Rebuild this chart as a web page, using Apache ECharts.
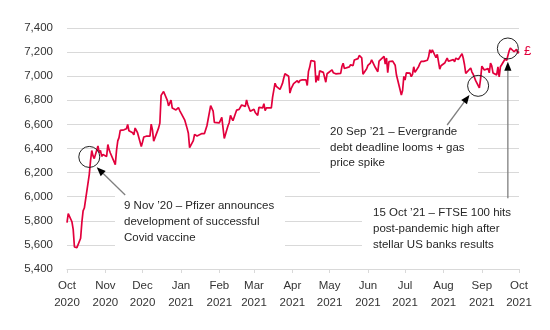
<!DOCTYPE html>
<html><head><meta charset="utf-8">
<script src="https://cdn.jsdelivr.net/npm/echarts@6/dist/echarts.min.js"></script>
<style>html,body{margin:0;padding:0;background:#fff}#c{width:550px;height:330px}</style>
</head><body><div id="c"></div>
<script>
// FTSE 100 daily close (UK holidays carry the previous close)
const dates = [
'2020-10-22','2020-10-23','2020-10-26','2020-10-27','2020-10-28','2020-10-29','2020-10-30',
'2020-11-02','2020-11-03','2020-11-04','2020-11-05','2020-11-06','2020-11-09','2020-11-10','2020-11-11','2020-11-12','2020-11-13','2020-11-16','2020-11-17','2020-11-18','2020-11-19','2020-11-20','2020-11-23','2020-11-24','2020-11-25','2020-11-26','2020-11-27','2020-11-30',
'2020-12-01','2020-12-02','2020-12-03','2020-12-04','2020-12-07','2020-12-08','2020-12-09','2020-12-10','2020-12-11','2020-12-14','2020-12-15','2020-12-16','2020-12-17','2020-12-18','2020-12-21','2020-12-22','2020-12-23','2020-12-24','2020-12-25','2020-12-28','2020-12-29','2020-12-30','2020-12-31',
'2021-01-01','2021-01-04','2021-01-05','2021-01-06','2021-01-07','2021-01-08','2021-01-11','2021-01-12','2021-01-13','2021-01-14','2021-01-15','2021-01-18','2021-01-19','2021-01-20','2021-01-21','2021-01-22','2021-01-25','2021-01-26','2021-01-27','2021-01-28','2021-01-29',
'2021-02-01','2021-02-02','2021-02-03','2021-02-04','2021-02-05','2021-02-08','2021-02-09','2021-02-10','2021-02-11','2021-02-12','2021-02-15','2021-02-16','2021-02-17','2021-02-18','2021-02-19','2021-02-22','2021-02-23','2021-02-24','2021-02-25','2021-02-26',
'2021-03-01','2021-03-02','2021-03-03','2021-03-04','2021-03-05','2021-03-08','2021-03-09','2021-03-10','2021-03-11','2021-03-12','2021-03-15','2021-03-16','2021-03-17','2021-03-18','2021-03-19','2021-03-22','2021-03-23','2021-03-24','2021-03-25','2021-03-26','2021-03-29','2021-03-30','2021-03-31',
'2021-04-01','2021-04-02','2021-04-05','2021-04-06','2021-04-07','2021-04-08','2021-04-09','2021-04-12','2021-04-13','2021-04-14','2021-04-15','2021-04-16','2021-04-19','2021-04-20','2021-04-21','2021-04-22','2021-04-23','2021-04-26','2021-04-27','2021-04-28','2021-04-29','2021-04-30',
'2021-05-03','2021-05-04','2021-05-05','2021-05-06','2021-05-07','2021-05-10','2021-05-11','2021-05-12','2021-05-13','2021-05-14','2021-05-17','2021-05-18','2021-05-19','2021-05-20','2021-05-21','2021-05-24','2021-05-25','2021-05-26','2021-05-27','2021-05-28','2021-05-31',
'2021-06-01','2021-06-02','2021-06-03','2021-06-04','2021-06-07','2021-06-08','2021-06-09','2021-06-10','2021-06-11','2021-06-14','2021-06-15','2021-06-16','2021-06-17','2021-06-18','2021-06-21','2021-06-22','2021-06-23','2021-06-24','2021-06-25','2021-06-28','2021-06-29','2021-06-30',
'2021-07-01','2021-07-02','2021-07-05','2021-07-06','2021-07-07','2021-07-08','2021-07-09','2021-07-12','2021-07-13','2021-07-14','2021-07-15','2021-07-16','2021-07-19','2021-07-20','2021-07-21','2021-07-22','2021-07-23','2021-07-26','2021-07-27','2021-07-28','2021-07-29','2021-07-30',
'2021-08-02','2021-08-03','2021-08-04','2021-08-05','2021-08-06','2021-08-09','2021-08-10','2021-08-11','2021-08-12','2021-08-13','2021-08-16','2021-08-17','2021-08-18','2021-08-19','2021-08-20','2021-08-23','2021-08-24','2021-08-25','2021-08-26','2021-08-27','2021-08-30','2021-08-31',
'2021-09-01','2021-09-02','2021-09-03','2021-09-06','2021-09-07','2021-09-08','2021-09-09','2021-09-10','2021-09-13','2021-09-14','2021-09-15','2021-09-16','2021-09-17','2021-09-20','2021-09-21','2021-09-22','2021-09-23','2021-09-24','2021-09-27','2021-09-28','2021-09-29','2021-09-30',
'2021-10-01','2021-10-04','2021-10-05','2021-10-06','2021-10-07','2021-10-08','2021-10-11','2021-10-12','2021-10-13','2021-10-14','2021-10-15','2021-10-18','2021-10-19','2021-10-20','2021-10-21','2021-10-22'
];
const closes = [
5785,5860,5792,5729,5583,5582,5577,
5655,5787,5883,5906,5910,6186,6297,6383,6339,6316,6421,6365,6385,6334,6351,6334,6433,6391,6363,6368,6266,
6384,6463,6490,6550,6555,6559,6564,6599,6547,6531,6513,6570,6550,6529,6416,6453,6495,6502,6502,6502,6602,6555,6461,
6461,6571,6612,6841,6857,6873,6799,6754,6745,6802,6736,6720,6712,6740,6715,6695,6638,6654,6567,6526,6407,
6466,6517,6507,6504,6489,6524,6532,6524,6528,6589,6756,6749,6711,6617,6624,6612,6626,6659,6652,6483,
6589,6614,6675,6651,6631,6719,6730,6725,6737,6761,6750,6803,6763,6779,6709,6726,6699,6713,6674,6741,6737,6772,6714,
6737,6737,6737,6824,6885,6942,6916,6890,6889,6940,6983,7020,7000,6860,6896,6895,6938,6963,6945,6963,6961,6970,
6970,6923,7040,7076,7130,7123,6948,7005,6963,7044,7032,7035,6950,7020,7018,7052,7029,7026,7020,7023,7023,
7080,7108,7064,7069,7077,7095,7081,7088,7134,7146,7172,7184,7153,7017,7062,7090,7074,7109,7136,7072,7087,7037,
7125,7123,7164,7101,7151,7030,7122,7125,7124,7091,7012,7008,6844,6881,6998,6968,7028,7025,6996,7016,7078,7032,
7081,7106,7123,7120,7123,7132,7161,7220,7193,7219,7153,7181,7169,7058,7087,7109,7125,7150,7124,7138,7138,7120,
7150,7164,7138,7187,7149,7095,7024,7029,7068,7034,7016,7027,6963,6903,6980,7083,7078,7051,7063,7028,7108,7086,
7027,7011,7077,6995,7078,7095,7147,7130,7141,7208,7234,7203,7217,7223,7190,7205
];
const tickDates = ['2020-10-22','2020-11-22','2020-12-22','2021-01-22','2021-02-22','2021-03-22','2021-04-22','2021-05-22','2021-06-22','2021-07-22','2021-08-22','2021-09-22','2021-10-22'];
const tickLabels = ['Oct\n2020','Nov\n2020','Dec\n2020','Jan\n2021','Feb\n2021','Mar\n2021','Apr\n2021','May\n2021','Jun\n2021','Jul\n2021','Aug\n2021','Sep\n2021','Oct\n2021'];
const yTickValues = [5400,5600,5800,6000,6200,6400,6600,6800,7000,7200,7400];
const yTickLabels = ['5,400','5,600','5,800','6,000','6,200','6,400','6,600','6,800','7,000','7,200','7,400'];
const circleAnchors = [['2020-11-09',6330],['2021-09-19',6920],['2021-10-13',7230]];
const arrowTails = [['2020-12-08',6014],['2021-08-25',6595],['2021-10-13',5987]];
const arrowTips  = [['2020-11-15',6244],['2021-09-12',6844],['2021-10-13',7120]];
const noteTexts = [
  '9 Nov \u201920 \u2013 Pfizer announces\ndevelopment of successful\nCovid vaccine',
  '20 Sep \u201921 \u2013 Evergrande\ndebt deadline looms + gas\nprice spike',
  '15 Oct \u201921 \u2013 FTSE 100 hits\npost-pandemic high after\nstellar US banks results'
];

// dates -> day number from the first axis date (UTC, so no DST shifts)
function utc(s){ const p = s.split('-').map(Number); return Date.UTC(p[0], p[1]-1, p[2]); }
const t0 = utc(tickDates[0]);
function dayNo(s){ return Math.round((utc(s) - t0) / 86400000); }
const tickDays = tickDates.map(dayNo);
const FONT = 'Liberation Sans';
const RED = '#e2003c';

const chart = echarts.init(document.getElementById('c'), null, {renderer:'canvas'});
chart.setOption({
  animation: false,
  textStyle: {fontFamily: FONT},
  grid: {left: 67, right: 31, top: 28, bottom: 61},
  xAxis: {
    type: 'value', min: tickDays[0], max: tickDays[tickDays.length-1],
    axisLine: {show: true, onZero: false, lineStyle: {color: '#d9d9d9', width: 1}},
    axisTick: {show: true, length: 4, lineStyle: {color: '#d9d9d9'}, customValues: tickDays},
    axisLabel: {customValues: tickDays, color: '#333', fontSize: 11.5, lineHeight: 17, margin: 8, hideOverlap: false,
      showMinLabel: true, showMaxLabel: true,
      formatter: function(v){ const i = tickDays.indexOf(Math.round(v)); return i >= 0 ? tickLabels[i] : ''; }},
    splitLine: {show: false}
  },
  yAxis: {
    type: 'value', min: 5400, max: 7400, interval: 200,
    axisLine: {show: false}, axisTick: {show: false},
    axisLabel: {color: '#333', fontSize: 11.5, margin: 14,
      formatter: function(v){ const i = yTickValues.indexOf(v); return i >= 0 ? yTickLabels[i] : ''; }},
    splitLine: {lineStyle: {color: '#d9d9d9', width: 1}}
  },
  series: [{
    type: 'line', z: 2,
    data: dates.map((d,i)=>[dayNo(d), closes[i]]),
    showSymbol: false, symbol: 'none',
    lineStyle: {color: RED, width: 1.7},
    itemStyle: {color: RED},
    endLabel: {show: true, formatter: '\u00a3', color: RED, fontSize: 13, distance: 5, fontFamily: FONT},
    markPoint: {
      symbol: 'circle', symbolSize: 21, silent: true,
      itemStyle: {color: 'rgba(0,0,0,0)', borderColor: '#222', borderWidth: 1},
      label: {show: false},
      data: circleAnchors.map(a=>({coord: [dayNo(a[0]), a[1]]}))
    }
  }]
});

// annotation boxes, texts and arrows
const g = [];
const boxes = [[115,186,170,62],[320,115,158,65],[362,202,170,62]];
boxes.forEach(b=>g.push({type:'rect', z:1, silent:true, shape:{x:b[0],y:b[1],width:b[2],height:b[3]}, style:{fill:'#fff'}}));
const notePos = [[124,198,16],[330,124.5,15.5],[373,205,16]];
noteTexts.forEach((t,i)=>g.push({type:'text', z:10, silent:true, x:notePos[i][0], y:notePos[i][1],
  style:{text:t, fill:'#262626', font:'11.5px "'+FONT+'"', lineHeight:notePos[i][2], align:'left', verticalAlign:'top'}}));
arrowTails.forEach((tl,i)=>{
  const p0 = chart.convertToPixel({gridIndex:0}, [dayNo(tl[0]), tl[1]]);
  const p1 = chart.convertToPixel({gridIndex:0}, [dayNo(arrowTips[i][0]), arrowTips[i][1]]);
  const dx=p1[0]-p0[0], dy=p1[1]-p0[1], L=Math.hypot(dx,dy), ux=dx/L, uy=dy/L;
  const hl=9, hw=3.6;
  const bx=p1[0]-ux*hl, by=p1[1]-uy*hl;
  g.push({type:'line', z:10, silent:true, shape:{x1:p0[0],y1:p0[1],x2:bx,y2:by}, style:{stroke:'#7f7f7f', lineWidth:1.3}});
  g.push({type:'polygon', z:10, silent:true, shape:{points:[[p1[0],p1[1]],[bx-uy*hw,by+ux*hw],[bx+uy*hw,by-ux*hw]]}, style:{fill:'#000'}});
});
chart.setOption({graphic: g});
</script>
</body></html>
